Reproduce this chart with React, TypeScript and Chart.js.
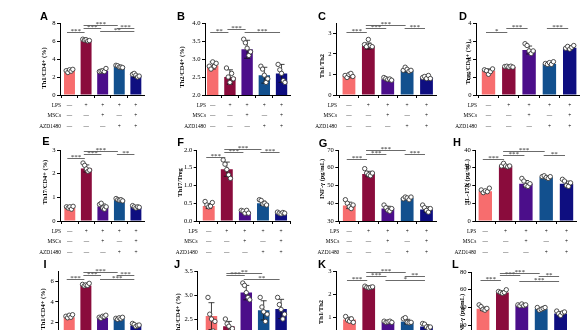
import React, { useEffect, useRef } from "react";
import { Chart, registerables } from "chart.js";

Chart.register(...registerables);

// ---------- shared data ----------
const groups = ["Control", "LPS", "LPS+MSCs", "LPS+AZD1480", "LPS+MSCs+AZD1480"];
const rowLPS = ["—", "+", "+", "+", "+"];
const rowMSCs = ["—", "—", "+", "—", "+"];
const rowAZD = ["—", "—", "—", "+", "+"];
const tableNames = ["LPS", "MSCs", "AZD1480"];
const barColors = ["#F76D6E", "#8A0C3C", "#4B0E8A", "#12508E", "#0E0E80"];

type Sig = [number, number, number, string];

// ---------- A: Th1/CD4+ ----------
const meanA = [2.75, 6.05, 2.7, 3.2, 2.1];
const errA = [0.15, 0.1, 0.15, 0.1, 0.15];
const dotsA = [[2.7, 2.5, 2.8, 2.65, 2.85], [6.2, 6.1, 6.15, 6.0, 6.05], [2.6, 2.65, 2.7, 2.6, 2.95], [3.3, 3.25, 3.1, 3.1, 3.05], [2.3, 2.4, 2.2, 2.0, 2.1]];
const sigA: Sig[] = [[0, 1, 7.0, "***"], [1, 2, 7.44, "***"], [1, 3, 7.81, "***"], [2, 4, 7.06, "**"], [3, 4, 7.44, "***"]];
const ticksA = [0, 2, 4, 6, 8];

// ---------- B: Th2/CD4+ ----------
const meanB = [2.82, 2.5, 3.27, 2.55, 2.6];
const errB = [0.1, 0.2, 0.25, 0.22, 0.25];
const dotsB = [[2.8, 2.72, 2.92, 2.8, 2.88], [2.75, 2.5, 2.35, 2.6, 2.45], [3.55, 3.45, 3.3, 3.1, 3.2], [2.8, 2.72, 2.55, 2.35, 2.45], [2.85, 2.7, 2.6, 2.4, 2.35]];
const sigB: Sig[] = [[0, 1, 3.76, "**"], [1, 2, 3.84, "***"], [2, 4, 3.76, "***"]];
const ticksB = [2, 2.5, 3, 3.5, 4];

// ---------- C: Th1/Th2 ----------
const meanC = [0.92, 2.38, 0.77, 1.2, 0.85];
const errC = [0.08, 0.15, 0.05, 0.08, 0.07];
const dotsC = [[0.95, 0.85, 1.0, 1.05, 0.9], [2.45, 2.35, 2.7, 2.4, 2.35], [0.85, 0.8, 0.75, 0.78, 0.72], [1.2, 1.35, 1.25, 1.15, 1.2], [0.85, 0.9, 0.8, 0.95, 0.8]];
const sigC: Sig[] = [[0, 1, 3.05, "***"], [1, 2, 3.24, "***"], [1, 3, 3.39, "***"], [3, 4, 3.24, "***"]];
const ticksC = [0, 1, 2, 3];

// ---------- D: Treg/CD4+ ----------
const meanD = [1.35, 1.55, 2.5, 1.72, 2.62];
const errD = [0.1, 0.05, 0.22, 0.06, 0.08];
const dotsD = [[1.4, 1.35, 1.15, 1.3, 1.45], [1.58, 1.6, 1.55, 1.6, 1.55], [2.85, 2.75, 2.45, 2.3, 2.45], [1.75, 1.7, 1.8, 1.7, 1.85], [2.6, 2.7, 2.55, 2.65, 2.75]];
const sigD: Sig[] = [[0, 1, 3.5, "*"], [1, 2, 3.73, "***"], [3, 4, 3.73, "***"]];
const ticksD = [0, 1, 2, 3, 4];

// ---------- E: Th17/CD4+ ----------
const meanE = [0.55, 2.22, 0.62, 0.9, 0.6];
const errE = [0.05, 0.15, 0.1, 0.05, 0.05];
const dotsE = [[0.6, 0.55, 0.6, 0.5, 0.62], [2.45, 2.35, 2.2, 2.1, 2.15], [0.7, 0.75, 0.55, 0.5, 0.6], [0.95, 0.9, 0.88, 0.9, 0.85], [0.65, 0.6, 0.55, 0.6, 0.58]];
const sigE: Sig[] = [[0, 1, 2.65, "***"], [1, 2, 2.83, "***"], [1, 3, 2.95, "***"], [3, 4, 2.83, "**"]];
const ticksE = [0, 1, 2, 3];

// ---------- F: Th17/Treg ----------
const meanF = [0.42, 1.46, 0.26, 0.5, 0.22];
const errF = [0.07, 0.2, 0.04, 0.06, 0.02];
const dotsF = [[0.55, 0.45, 0.4, 0.42, 0.52], [1.72, 1.6, 1.45, 1.3, 1.2], [0.3, 0.28, 0.22, 0.3, 0.22], [0.6, 0.58, 0.48, 0.5, 0.45], [0.25, 0.22, 0.2, 0.24, 0.22]];
const sigF: Sig[] = [[0, 1, 1.81, "***"], [1, 2, 1.93, "***"], [1, 3, 2.03, "***"], [3, 4, 1.93, "***"]];
const ticksF = [0, 0.5, 1, 1.5, 2];

// ---------- G: INF-γ ----------
const meanG = [38.8, 56.5, 37, 43, 36.5];
const errG = [1.8, 1.5, 1.3, 0.6, 1.5];
const dotsG = [[42, 40, 38, 37, 39], [59.5, 57, 56, 55.5, 57], [39, 37.5, 36, 35.5, 37], [42.5, 43.5, 43, 42, 43.5], [39, 37.5, 36, 35, 37]];
const sigG: Sig[] = [[0, 1, 65, "***"], [1, 2, 67.5, "***"], [1, 3, 69.8, "***"], [3, 4, 67.5, "***"]];
const ticksG = [30, 40, 50, 60, 70];

// ---------- H: IL-17A ----------
const meanH = [16.8, 30.8, 21, 24.6, 21];
const errH = [0.8, 0.7, 1.8, 0.5, 1.5];
const dotsH = [[17.5, 16, 17, 16.5, 18.5], [31, 32.5, 31, 30.5, 31], [24, 22.5, 20, 19.5, 21], [25, 25.5, 24.5, 24, 25], [23.5, 22.5, 20, 19.5, 21.5]];
const sigH: Sig[] = [[0, 1, 34.9, "***"], [1, 2, 37.1, "***"], [1, 3, 39.6, "***"], [3, 4, 37.1, "**"]];
const ticksH = [0, 10, 20, 30, 40];

// ---------- I: Th1/CD4+ ----------
const meanI = [2.5, 5.6, 2.45, 2.35, 1.7];
const errI = [0.1, 0.1, 0.1, 0.08, 0.1];
const dotsI = [[2.6, 2.45, 2.7, 2.5, 2.75], [5.7, 5.55, 5.65, 5.6, 5.8], [2.5, 2.4, 2.6, 2.55, 2.7], [2.4, 2.3, 2.45, 2.35, 2.5], [1.9, 1.8, 1.6, 1.7, 1.75]];
const sigI: Sig[] = [[0, 1, 6.2, "***"], [1, 2, 6.6, "***"], [1, 3, 6.93, "***"], [2, 4, 6.2, "***"], [3, 4, 6.6, "***"]];
const ticksI = [0, 2, 4, 6];

// ---------- J: Th2/CD4+ ----------
const meanJ = [2.56, 2.35, 3.05, 2.68, 2.71];
const errJ = [0.28, 0.1, 0.15, 0.2, 0.2];
const dotsJ = [[2.95, 2.6, 2.5, 2.25, 2.45], [2.5, 2.4, 2.35, 2.25, 2.3], [3.25, 3.2, 3.05, 2.95, 2.9], [2.95, 2.75, 2.65, 2.45, 2.6], [2.95, 2.8, 2.7, 2.5, 2.6]];
const sigJ: Sig[] = [[1, 2, 3.41, "***"], [1, 3, 3.46, "**"], [2, 4, 3.33, "**"]];
const ticksJ = [2, 2.5, 3, 3.5];

// ---------- K: Th1/Th2 ----------
const meanK = [0.92, 2.3, 0.82, 0.83, 0.62];
const errK = [0.1, 0.03, 0.03, 0.1, 0.08];
const dotsK = [[1.05, 0.9, 0.85, 0.95, 0.8], [2.35, 2.3, 2.28, 2.3, 2.32], [0.85, 0.8, 0.82, 0.85, 0.8], [0.95, 1.0, 0.8, 0.78, 0.8], [0.75, 0.72, 0.6, 0.55, 0.6]];
const sigK: Sig[] = [[0, 1, 2.6, "***"], [1, 2, 2.8, "***"], [1, 3, 2.94, "***"], [2, 4, 2.6, "*"], [3, 4, 2.77, "**"]];
const ticksK = [0, 1, 2, 3];

// ---------- L: INF-γ ----------
const meanL = [38.5, 56.8, 42.5, 38.3, 33.3];
const errL = [2, 1.5, 1, 1.5, 2];
const dotsL = [[43, 41, 38, 37, 39], [58, 57, 56, 57, 60], [43, 42, 44, 42, 43], [40, 37, 38, 39, 40], [36, 33, 31, 34, 35]];
const sigL: Sig[] = [[0, 1, 71.3, "***"], [1, 2, 76.1, "***"], [1, 3, 78.8, "***"], [2, 4, 70.1, "***"], [3, 4, 75, "**"]];
const ticksL = [0, 20, 40, 60, 80];

// ---------- layout (positions only) ----------
const colLeft = [0, 146, 292, 438];
const rowTop = [0, 125, 249];
const CW = 149;
const CH = 136;
const dotOffsets = [-0.2, -0.1, 0, 0.1, 0.2];
const serif = "'Liberation Serif', 'Times New Roman', serif";

type Panel = {
  letter: string; title: string;
  mean: number[]; err: number[]; dots: number[][]; sig: Sig[];
  yMin: number; yMax: number; yTicks: number[]; decimals: number;
  col: number; row: number;
  axisX: number; c1: number; sp: number; top: number; bottom: number;
  letterX: number; letterY: number; titleX: number; titleY: number;
};

const panels: Panel[] = [
  { letter: "A", title: "Th1/CD4+ (%)", mean: meanA, err: errA, dots: dotsA, sig: sigA, yMin: 0, yMax: 8, yTicks: ticksA, decimals: 0,
    col: 0, row: 0, axisX: 60, c1: 71.5, sp: 20.1, top: 23, bottom: 95, letterX: 44, letterY: 17, titleX: 44, titleY: 68 },
  { letter: "B", title: "Th2/CD4+ (%)", mean: meanB, err: errB, dots: dotsB, sig: sigB, yMin: 2, yMax: 4, yTicks: ticksB, decimals: 1,
    col: 1, row: 0, axisX: 205, c1: 214, sp: 20.1, top: 23, bottom: 95, letterX: 181, letterY: 17, titleX: 182, titleY: 67 },
  { letter: "C", title: "Th1/Th2", mean: meanC, err: errC, dots: dotsC, sig: sigC, yMin: 0, yMax: 3.5, yTicks: ticksC, decimals: 0,
    col: 2, row: 0, axisX: 336, c1: 349.5, sp: 20.2, top: 23, bottom: 95, letterX: 322, letterY: 17, titleX: 322, titleY: 66 },
  { letter: "D", title: "Treg/CD4+ (%)", mean: meanD, err: errD, dots: dotsD, sig: sigD, yMin: 0, yMax: 4, yTicks: ticksD, decimals: 0,
    col: 3, row: 0, axisX: 476, c1: 488.5, sp: 20.3, top: 23, bottom: 95, letterX: 463, letterY: 17, titleX: 468, titleY: 63 },
  { letter: "E", title: "Th17/CD4+ (%)", mean: meanE, err: errE, dots: dotsE, sig: sigE, yMin: 0, yMax: 3, yTicks: ticksE, decimals: 0,
    col: 0, row: 1, axisX: 60, c1: 72, sp: 20.2, top: 150, bottom: 221, letterX: 46, letterY: 141.5, titleX: 45, titleY: 182 },
  { letter: "F", title: "Th17/Treg", mean: meanF, err: errF, dots: dotsF, sig: sigF, yMin: 0, yMax: 2, yTicks: ticksF, decimals: 1,
    col: 1, row: 1, axisX: 196.7, c1: 210, sp: 20, top: 150, bottom: 221, letterX: 180.5, letterY: 143, titleX: 180, titleY: 182.5 },
  { letter: "G", title: "INF-γ (pg/mL)", mean: meanG, err: errG, dots: dotsG, sig: sigG, yMin: 30, yMax: 70, yTicks: ticksG, decimals: 0,
    col: 2, row: 1, axisX: 338.3, c1: 349.7, sp: 20.1, top: 150, bottom: 221, letterX: 323, letterY: 144, titleX: 322.7, titleY: 179 },
  { letter: "H", title: "IL-17A (pg/mL)", mean: meanH, err: errH, dots: dotsH, sig: sigH, yMin: 0, yMax: 40, yTicks: ticksH, decimals: 0,
    col: 3, row: 1, axisX: 475.3, c1: 485.3, sp: 20.3, top: 150, bottom: 221, letterX: 457, letterY: 143, titleX: 467, titleY: 181 },
  { letter: "I", title: "Th1/CD4+ (%)", mean: meanI, err: errI, dots: dotsI, sig: sigI, yMin: 0, yMax: 7, yTicks: ticksI, decimals: 0,
    col: 0, row: 2, axisX: 58.3, c1: 71.5, sp: 20.1, top: 271, bottom: 343, letterX: 45, letterY: 265, titleX: 43.3, titleY: 309 },
  { letter: "J", title: "Th2/CD4+ (%)", mean: meanJ, err: errJ, dots: dotsJ, sig: sigJ, yMin: 2, yMax: 3.5, yTicks: ticksJ, decimals: 1,
    col: 1, row: 2, axisX: 197.3, c1: 213, sp: 19.3, top: 271, bottom: 343, letterX: 177, letterY: 265, titleX: 178, titleY: 314 },
  { letter: "K", title: "Th1/Th2", mean: meanK, err: errK, dots: dotsK, sig: sigK, yMin: 0, yMax: 3, yTicks: ticksK, decimals: 0,
    col: 2, row: 2, axisX: 336, c1: 350, sp: 20, top: 271, bottom: 341, letterX: 322, letterY: 265, titleX: 321.7, titleY: 312 },
  { letter: "L", title: "INF-γ (pg/mL)", mean: meanL, err: errL, dots: dotsL, sig: sigL, yMin: 0, yMax: 80, yTicks: ticksL, decimals: 0,
    col: 3, row: 2, axisX: 471, c1: 483, sp: 19.4, top: 272, bottom: 343, letterX: 455.3, letterY: 265, titleX: 462, titleY: 314 },
];

function PanelChart({ p }: { p: Panel }) {
  const ref = useRef<HTMLCanvasElement>(null);
  const cx = colLeft[p.col];
  const cy = rowTop[p.row];

  useEffect(() => {
    const canvas = ref.current;
    if (!canvas) return;
    const xEnd = p.c1 + 4 * p.sp + 10;
    const xMin = -(p.c1 - p.axisX) / p.sp;
    const xMax = 4 + 10 / p.sp;

    const annot = {
      id: "annot" + p.letter,
      afterDatasetDraw(chart: any, args: any) {
        if (args.index !== 0) return;
        const ctx = chart.ctx;
        const xs = chart.scales.x;
        const ys = chart.scales.y;
        ctx.save();
        ctx.strokeStyle = "#111";
        ctx.lineWidth = 0.8;
        p.mean.forEach((m, i) => {
          const x = xs.getPixelForValue(i);
          const t = ys.getPixelForValue(m + p.err[i]);
          const b = ys.getPixelForValue(m - p.err[i]);
          ctx.beginPath();
          ctx.moveTo(x, t); ctx.lineTo(x, b);
          ctx.moveTo(x - 3, t); ctx.lineTo(x + 3, t);
          ctx.moveTo(x - 3, b); ctx.lineTo(x + 3, b);
          ctx.stroke();
        });
        ctx.restore();
      },
      afterDraw(chart: any) {
        const ctx = chart.ctx;
        const xs = chart.scales.x;
        const ys = chart.scales.y;
        ctx.save();
        // significance brackets
        p.sig.forEach(([a, b, v, lab]) => {
          const x1 = xs.getPixelForValue(a) - 2.5;
          const x2 = xs.getPixelForValue(b) - 1.5;
          const y = Math.round(ys.getPixelForValue(v)) + 0.5;
          ctx.strokeStyle = "#5a5a5a";
          ctx.lineWidth = 0.9;
          ctx.beginPath();
          ctx.moveTo(x1, y); ctx.lineTo(x2, y);
          ctx.stroke();
          ctx.fillStyle = "#222";
          ctx.font = `7px ${serif}`;
          ctx.textAlign = "center";
          ctx.textBaseline = "alphabetic";
          ctx.fillText(lab, (x1 + x2) / 2, y + 0.8);
        });
        // panel letter
        ctx.fillStyle = "#000";
        ctx.font = "bold 11px 'Liberation Sans', Arial, sans-serif";
        ctx.textAlign = "center";
        ctx.textBaseline = "middle";
        ctx.fillText(p.letter, p.letterX - cx, p.letterY - cy);
        // y title
        ctx.save();
        ctx.translate(p.titleX - cx, p.titleY - cy);
        ctx.rotate(-Math.PI / 2);
        ctx.font = `bold 6.4px ${serif}`;
        ctx.fillText(p.title, 0, 0);
        ctx.restore();
        // treatment table
        const rows = [rowLPS, rowMSCs, rowAZD];
        const offs = [11, 21, 31.5];
        ctx.font = `5.4px ${serif}`;
        rows.forEach((r, k) => {
          const y = p.bottom - cy + offs[k];
          ctx.textAlign = "right";
          ctx.fillText(tableNames[k], p.axisX - cx + 1, y);
          ctx.textAlign = "center";
          r.forEach((s, i) => ctx.fillText(s, xs.getPixelForValue(i), y));
        });
        ctx.restore();
      },
    };

    const chart = new Chart(canvas, {
      type: "bar",
      data: {
        datasets: [
          {
            type: "bar",
            label: p.title,
            data: p.mean.map((v, i) => ({ x: i, y: v })),
            backgroundColor: barColors,
            borderWidth: 0,
            barPercentage: 0.66,
            categoryPercentage: 1,
            order: 2,
          } as any,
          {
            type: "scatter",
            label: "points",
            data: p.dots.flatMap((vals, i) => vals.map((v, k) => ({ x: i + dotOffsets[k], y: v }))),
            pointRadius: 2.2,
            pointBorderWidth: 0.9,
            pointBorderColor: "#3a3a3a",
            pointBackgroundColor: "#ffffff",
            showLine: false,
            clip: false,
            order: 1,
          } as any,
        ],
      },
      options: {
        responsive: false,
        animation: false,
        devicePixelRatio: 1,
        events: [],
        layout: { padding: { left: 0, top: p.top - cy, right: CW - (xEnd - cx), bottom: 0 } },
        plugins: { legend: { display: false }, tooltip: { enabled: false }, title: { display: false } },
        scales: {
          x: {
            type: "linear",
            min: xMin,
            max: xMax,
            bounds: "data",
            offset: false,
            afterBuildTicks: (s: any) => { s.ticks = groups.map((_, i) => ({ value: i })); },
            afterFit: (s: any) => { s.height = CH - (p.bottom - cy); s.paddingLeft = 0; s.paddingRight = 0; },
            ticks: { display: false },
            grid: { display: true, drawOnChartArea: false, drawTicks: true, tickLength: 3, color: "#000", lineWidth: 1 },
            border: { display: true, color: "#000", width: 1 },
          },
          y: {
            type: "linear",
            min: p.yMin,
            max: p.yMax,
            bounds: "data",
            afterBuildTicks: (s: any) => { s.ticks = p.yTicks.map((v) => ({ value: v })); },
            afterFit: (s: any) => { s.width = p.axisX - cx; s.paddingTop = 0; s.paddingBottom = 0; },
            ticks: {
              autoSkip: false,
              padding: 1.5,
              color: "#000",
              font: { family: serif, size: 6.6 },
              callback: (v: any) => Number(v).toFixed(p.decimals),
            },
            grid: { display: true, drawOnChartArea: false, drawTicks: true, tickLength: 3, color: "#000", lineWidth: 1 },
            border: { display: true, color: "#000", width: 1 },
          },
        },
      } as any,
      plugins: [annot],
    });
    return () => chart.destroy();
  }, []);

  return (
    <canvas
      ref={ref}
      width={CW}
      height={CH}
      style={{ position: "absolute", left: cx, top: cy, width: CW, height: CH }}
    />
  );
}

export default function App() {
  return (
    <div style={{ position: "fixed", left: 0, top: 0, width: 587, height: 330, overflow: "hidden", background: "#ffffff" }}>
      {panels.map((p) => (
        <PanelChart key={p.letter} p={p} />
      ))}
    </div>
  );
}
